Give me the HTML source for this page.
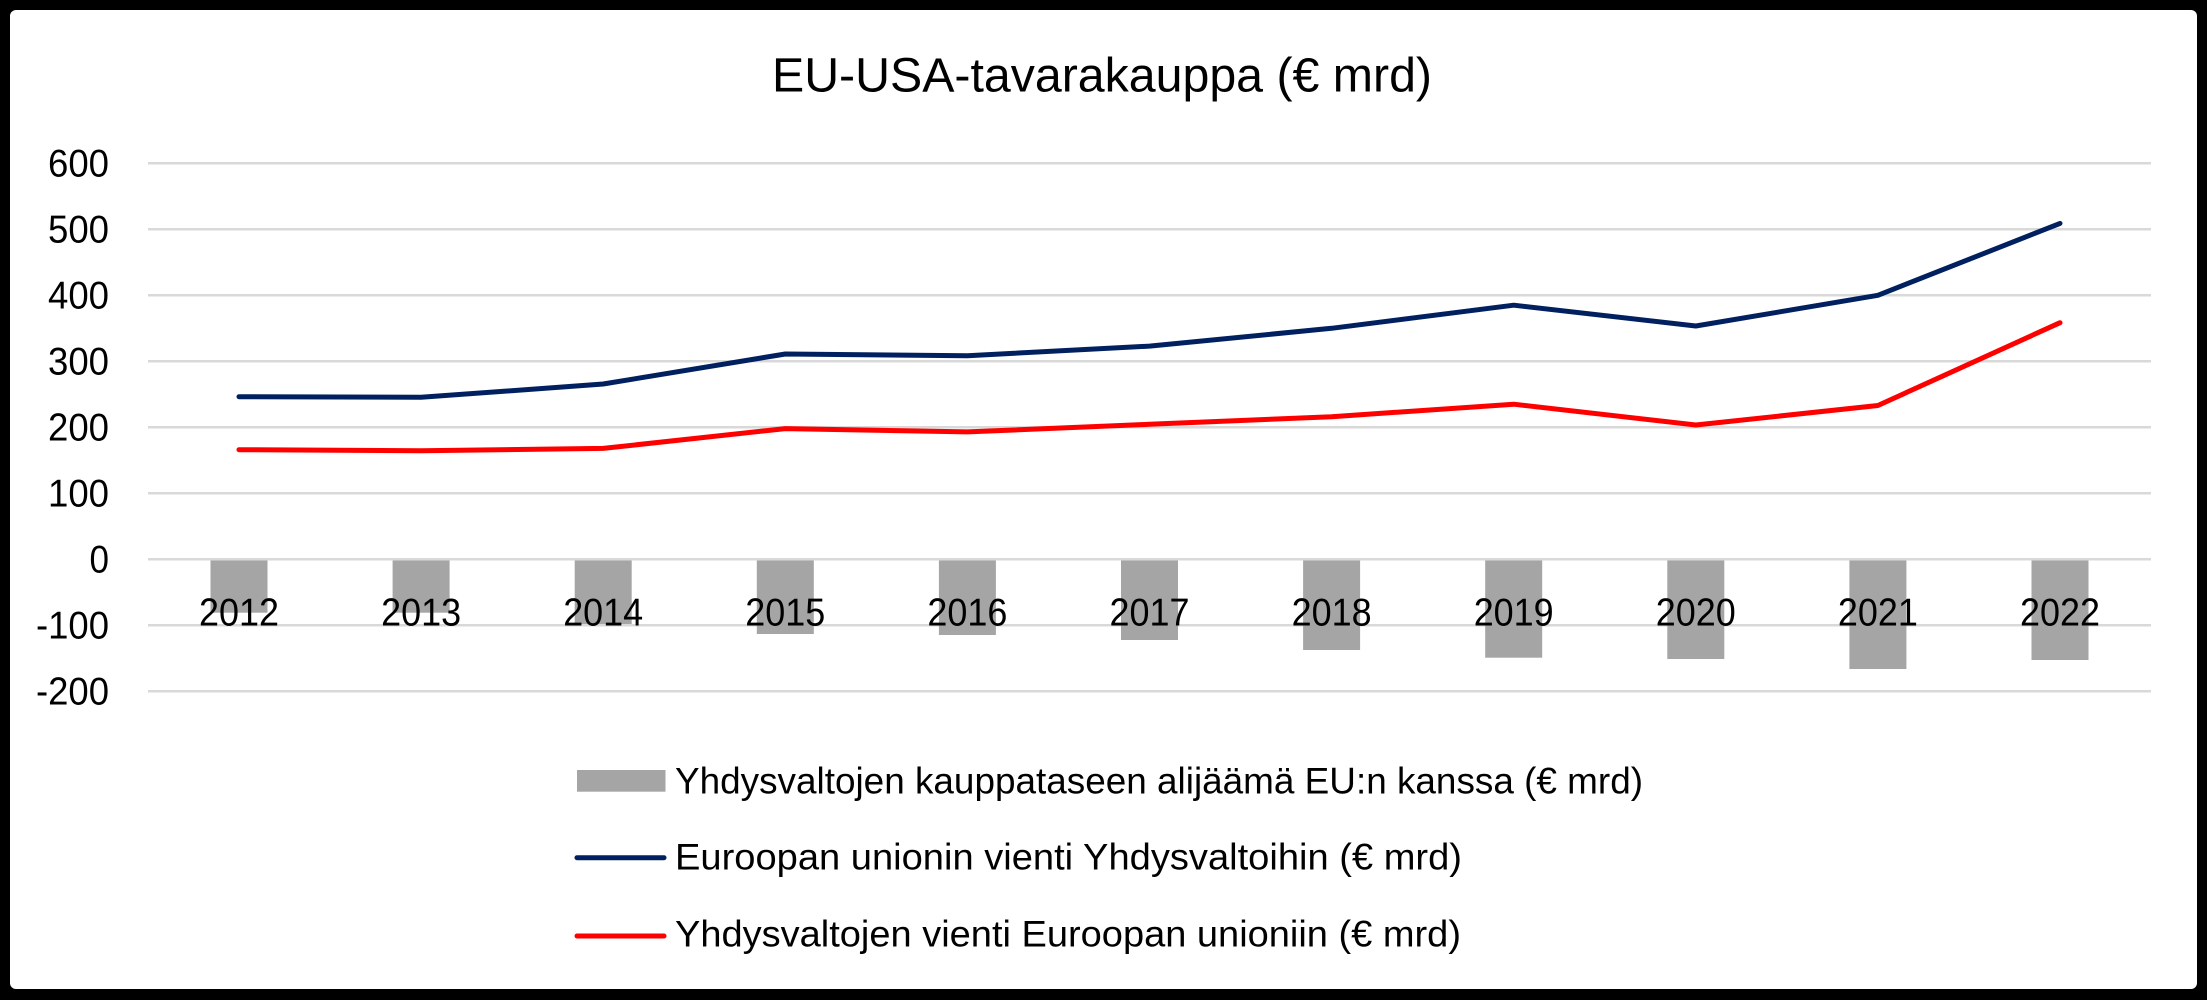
<!DOCTYPE html>
<html>
<head>
<meta charset="utf-8">
<style>
  html, body { margin: 0; padding: 0; background: #000; }
  svg { display: block; }
  text { font-family: "Liberation Sans", Arial, sans-serif; fill: #000; }
</style>
</head>
<body>
<svg width="2207" height="1000" viewBox="0 0 2207 1000" xmlns="http://www.w3.org/2000/svg">
  <!-- frame -->
  <rect x="0" y="0" width="2207" height="1000" fill="#000"/>
  <rect x="10" y="10" width="2187" height="979" rx="6" ry="6" fill="#fff"/>

  <!-- title -->
  <text x="772" y="91.7" font-size="48" textLength="660" lengthAdjust="spacingAndGlyphs">EU-USA-tavarakauppa (€ mrd)</text>

  <!-- gridlines -->
  <g stroke="#d9d9d9" stroke-width="2.5">
    <line x1="148" x2="2151" y1="163.3" y2="163.3"/>
    <line x1="148" x2="2151" y1="229.3" y2="229.3"/>
    <line x1="148" x2="2151" y1="295.3" y2="295.3"/>
    <line x1="148" x2="2151" y1="361.3" y2="361.3"/>
    <line x1="148" x2="2151" y1="427.3" y2="427.3"/>
    <line x1="148" x2="2151" y1="493.3" y2="493.3"/>
    <line x1="148" x2="2151" y1="559.3" y2="559.3"/>
    <line x1="148" x2="2151" y1="625.3" y2="625.3"/>
    <line x1="148" x2="2151" y1="691.3" y2="691.3"/>
  </g>

  <!-- y axis labels -->
  <g font-size="39">
    <text x="48" y="176.5" textLength="61" lengthAdjust="spacingAndGlyphs">600</text>
    <text x="48" y="242.5" textLength="61" lengthAdjust="spacingAndGlyphs">500</text>
    <text x="48" y="308.5" textLength="61" lengthAdjust="spacingAndGlyphs">400</text>
    <text x="48" y="374.5" textLength="61" lengthAdjust="spacingAndGlyphs">300</text>
    <text x="48" y="440.5" textLength="61" lengthAdjust="spacingAndGlyphs">200</text>
    <text x="48" y="506.5" textLength="61" lengthAdjust="spacingAndGlyphs">100</text>
    <text x="89.5" y="572.5" textLength="19.5" lengthAdjust="spacingAndGlyphs">0</text>
    <text x="36" y="638.5" textLength="73" lengthAdjust="spacingAndGlyphs">-100</text>
    <text x="36" y="704.5" textLength="73" lengthAdjust="spacingAndGlyphs">-200</text>
  </g>

  <!-- bars -->
  <g fill="#a5a5a5">
    <rect x="210.5" y="560.5" width="57" height="52.2"/>
    <rect x="392.6" y="560.5" width="57" height="52.2"/>
    <rect x="574.7" y="560.5" width="57" height="63.5"/>
    <rect x="756.8" y="560.5" width="57" height="73.5"/>
    <rect x="938.9" y="560.5" width="57" height="74.5"/>
    <rect x="1121.0" y="560.5" width="57" height="79.5"/>
    <rect x="1303.1" y="560.5" width="57" height="89.5"/>
    <rect x="1485.2" y="560.5" width="57" height="97.2"/>
    <rect x="1667.3" y="560.5" width="57" height="98.5"/>
    <rect x="1849.4" y="560.5" width="57" height="108.5"/>
    <rect x="2031.5" y="560.5" width="57" height="99.5"/>
  </g>

  <!-- lines -->
  <polyline fill="none" stroke="#002060" stroke-width="5" stroke-linejoin="round" stroke-linecap="round"
    points="239.0,396.7 421.1,397.3 603.2,384.0 785.3,354.0 967.4,355.7 1149.5,346.1 1331.6,328.3 1513.7,305.2 1695.8,326.0 1877.9,295.3 2060.0,223.4"/>
  <polyline fill="none" stroke="#ff0000" stroke-width="5" stroke-linejoin="round" stroke-linecap="round"
    points="239.0,449.7 421.1,450.7 603.2,448.4 785.3,428.6 967.4,431.9 1149.5,424.3 1331.6,416.7 1513.7,404.2 1695.8,425.0 1877.9,405.5 2060.0,322.7"/>

  <!-- category labels -->
  <g font-size="39">
    <text x="199.0" y="625.5" textLength="80" lengthAdjust="spacingAndGlyphs">2012</text>
    <text x="381.1" y="625.5" textLength="80" lengthAdjust="spacingAndGlyphs">2013</text>
    <text x="563.2" y="625.5" textLength="80" lengthAdjust="spacingAndGlyphs">2014</text>
    <text x="745.3" y="625.5" textLength="80" lengthAdjust="spacingAndGlyphs">2015</text>
    <text x="927.4" y="625.5" textLength="80" lengthAdjust="spacingAndGlyphs">2016</text>
    <text x="1109.5" y="625.5" textLength="80" lengthAdjust="spacingAndGlyphs">2017</text>
    <text x="1291.6" y="625.5" textLength="80" lengthAdjust="spacingAndGlyphs">2018</text>
    <text x="1473.7" y="625.5" textLength="80" lengthAdjust="spacingAndGlyphs">2019</text>
    <text x="1655.8" y="625.5" textLength="80" lengthAdjust="spacingAndGlyphs">2020</text>
    <text x="1837.9" y="625.5" textLength="80" lengthAdjust="spacingAndGlyphs">2021</text>
    <text x="2020.0" y="625.5" textLength="80" lengthAdjust="spacingAndGlyphs">2022</text>
  </g>

  <!-- legend -->
  <rect x="577" y="770" width="88.5" height="21.7" fill="#a5a5a5"/>
  <line x1="577" x2="664" y1="857.7" y2="857.7" stroke="#002060" stroke-width="5" stroke-linecap="round"/>
  <line x1="577" x2="664" y1="936" y2="936" stroke="#ff0000" stroke-width="5" stroke-linecap="round"/>
  <g font-size="37">
    <text x="675" y="793.3" textLength="968" lengthAdjust="spacingAndGlyphs">Yhdysvaltojen kauppataseen alijäämä EU:n kanssa (€ mrd)</text>
    <text x="675" y="869.3" textLength="787" lengthAdjust="spacingAndGlyphs">Euroopan unionin vienti Yhdysvaltoihin (€ mrd)</text>
    <text x="675" y="946.7" textLength="786" lengthAdjust="spacingAndGlyphs">Yhdysvaltojen vienti Euroopan unioniin (€ mrd)</text>
  </g>
</svg>
</body>
</html>
